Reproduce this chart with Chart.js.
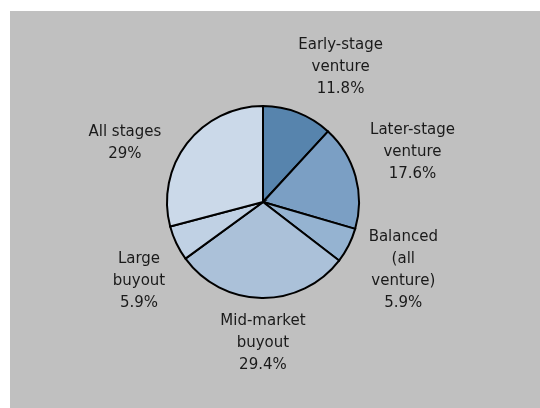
<!DOCTYPE html>
<html>
<head>
<meta charset="utf-8">
<script src="https://cdn.jsdelivr.net/npm/chart.js@4/dist/chart.umd.min.js"></script>
<style>
  html, body { margin: 0; padding: 0; background: #ffffff; }
  #wrap { width: 540px; height: 408px; position: relative; }
</style>
</head>
<body>
<div id="wrap"><canvas id="chart" width="540" height="408"></canvas></div>
<script>
// Fund stage categories (each entry is the label's wrapped lines)
const categories = [
  ['Early-stage', 'venture'],
  ['Later-stage', 'venture'],
  ['Balanced', '(all', 'venture)'],
  ['Mid-market', 'buyout'],
  ['Large', 'buyout'],
  ['All stages']
];
// Share of funds, percent
const shares = [11.8, 17.6, 5.9, 29.4, 5.9, 29];
const percentLabels = ['11.8%', '17.6%', '5.9%', '29.4%', '5.9%', '29%'];
const sliceColors = ['#5784ad', '#7b9fc4', '#95b3d1', '#abc1d9', '#c0d1e4', '#cbd9e9'];

// Grey plot panel behind the pie
const panelPlugin = {
  id: 'panel',
  beforeDraw(chart) {
    const ctx = chart.ctx;
    ctx.save();
    ctx.fillStyle = '#c0c0c0';
    ctx.fillRect(10, 11, chart.width - 10, chart.height - 11);
    ctx.restore();
  }
};

// Outside-end category + percentage labels
const outsideLabels = {
  id: 'outsideLabels',
  afterDatasetsDraw(chart, args, opts) {
    const ctx = chart.ctx;
    const meta = chart.getDatasetMeta(0);
    ctx.save();
    ctx.font = opts.font;
    ctx.fillStyle = opts.color;
    ctx.textAlign = 'center';
    ctx.textBaseline = 'middle';
    meta.data.forEach((arc, i) => {
      const p = arc.getProps(['x', 'y', 'startAngle', 'endAngle', 'outerRadius'], true);
      const lines = chart.data.labels[i].concat([percentLabels[i]]);
      const w = Math.max(...lines.map(l => ctx.measureText(l).width));
      const h = lines.length * opts.lineHeight;
      const mid = (p.startAngle + p.endAngle) / 2 + (opts.angleShift[i] || 0) * Math.PI / 180;
      const dx = Math.cos(mid), dy = Math.sin(mid);
      const clear = p.outerRadius + opts.gap;
      let t = p.outerRadius;
      for (; t < p.outerRadius + 300; t += 0.5) {
        const cx = dx * t, cy = dy * t;
        const nx = Math.max(Math.abs(cx) - w / 2, 0);
        const ny = Math.max(Math.abs(cy) - h / 2, 0);
        if (Math.hypot(nx, ny) >= clear) break;
      }
      const cx = p.x + dx * t, cy = p.y + dy * t;
      lines.forEach((l, k) => {
        ctx.fillText(l, cx, cy - h / 2 + opts.lineHeight / 2 + k * opts.lineHeight);
      });
    });
    ctx.restore();
  }
};

new Chart(document.getElementById('chart'), {
  type: 'pie',
  data: {
    labels: categories,
    datasets: [{
      data: shares,
      backgroundColor: sliceColors,
      borderColor: '#000000',
      borderWidth: 2,
      borderJoinStyle: 'miter'
    }]
  },
  options: {
    responsive: false,
    animation: false,
    devicePixelRatio: 1,
    radius: 96,
    layout: { padding: { left: 0, right: 14, top: 0, bottom: 4 } },
    plugins: {
      legend: { display: false },
      tooltip: { enabled: false },
      outsideLabels: {
        font: '15px "DejaVu Sans", Verdana, sans-serif',
        color: '#1a1a1a',
        lineHeight: 22,
        gap: 12,
        angleShift: [8.5, -2.8, -1, -0.7, -7, -14.6]
      }
    }
  },
  plugins: [panelPlugin, outsideLabels]
});
</script>
</body>
</html>
